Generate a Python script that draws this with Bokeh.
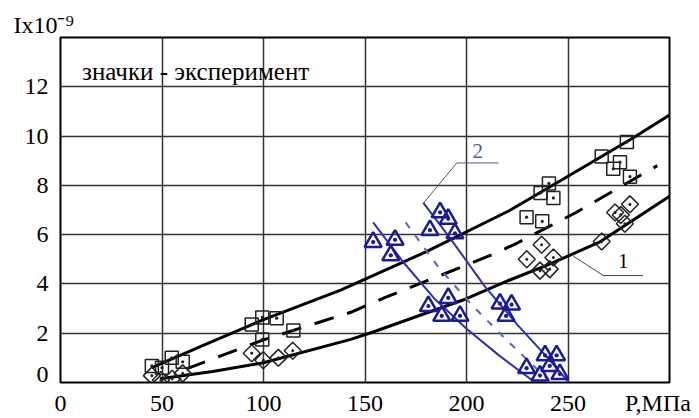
import math
from bokeh.plotting import figure
from bokeh.models import Range1d, FixedTicker, Label, Title
from bokeh.embed import file_html
from bokeh.resources import INLINE

# ---- data ----
x_grid = [50, 100, 150, 200, 250]
x_ticks = [0, 50, 100, 150, 200, 250]
x_unit_pos = 294.3
x_unit_label = "P,МПа"
y_grid = [2, 4, 6, 8, 10, 12]
y_zero_pos = 0.32
y_title = "Ix10⁻⁹"

upper_x = [45, 70, 100, 138, 180, 221, 250, 282, 300]
upper_y = [0.6, 1.5, 2.55, 3.75, 5.3, 6.97, 8.37, 9.92, 10.85]

mid_x = [62, 100, 143, 160, 213, 225, 254, 274, 294]
mid_y = [0.55, 1.73, 2.85, 3.45, 5.2, 5.66, 6.9, 7.85, 8.8]

lower_x = [49, 75, 100, 143, 154, 200, 221, 241, 266, 300]
lower_y = [0.15, 0.45, 0.8, 1.75, 2.05, 3.4, 4.15, 4.8, 5.72, 7.56]

blue_left_x = [154, 169, 184, 200, 216, 233]
blue_left_y = [6.5, 4.87, 3.42, 2.18, 1.1, 0.05]

blue_right_x = [178.7, 192, 209, 225, 240, 250]
blue_right_y = [7.3, 5.85, 3.9, 2.35, 1.0, 0.05]

blue_mid_x = [170, 186, 202, 220, 241]
blue_mid_y = [6.5, 4.7, 3.2, 1.7, 0.05]

sq_x = [45, 50, 54.8, 60.2, 94.2, 99.4, 106.5, 114.7, 99.4,
        240.6, 236.5, 242.8, 229.6, 237.3, 279, 266.6, 275.6, 272.3, 280.5]
sq_y = [0.67, 0.6, 1.0, 0.84, 2.35, 2.64, 2.61, 2.11, 1.75,
        8.08, 7.69, 7.49, 6.71, 6.54, 9.76, 9.17, 8.94, 8.67, 8.35]

dm_x = [45, 49.5, 55, 60.2, 94.2, 99.9, 107.3, 114.4,
        237, 229.7, 242.8, 236.2, 241, 266.6, 273.2, 280.5, 278, 276]
dm_y = [0.28, 0.1, 0.15, 0.37, 1.19, 0.9, 1.0, 1.29,
        5.59, 5.0, 5.07, 4.54, 4.6, 5.72, 6.9, 7.23, 6.44, 6.8]

tr_x = [154, 164.8, 162.7, 187, 191, 182, 194.3, 181.2, 191, 187.8, 196.8,
        216.5, 222.2, 219.5, 238.7, 244.4, 229.6, 241, 236.2, 246]
tr_y = [5.7, 5.79, 5.16, 6.9, 6.64, 6.18, 6.05, 3.1, 3.43, 2.7, 2.7,
        3.2, 3.16, 2.7, 1.1, 1.1, 0.58, 0.67, 0.28, 0.34]

lead2_x = [179, 195.2, 215.7]
lead2_y = [7.3, 8.91, 8.91]
lead1_x = [252.6, 267.4, 287]
lead1_y = [5.13, 4.34, 4.34]

FONT = "'Liberation Serif', 'Times New Roman', serif"

p = figure(width=699, height=418, x_range=Range1d(0, 300), y_range=Range1d(0, 14),
           output_backend="svg", toolbar_location=None,
           min_border_left=60, min_border_right=30, min_border_top=37, min_border_bottom=28)

p.background_fill_color = "white"
p.border_fill_color = "white"
p.outline_line_color = "black"
p.outline_line_width = 2

p.xaxis.ticker = FixedTicker(ticks=x_ticks + [x_unit_pos])
p.xaxis.major_label_overrides = {x_unit_pos: x_unit_label}
p.yaxis.ticker = FixedTicker(ticks=[y_zero_pos] + y_grid)
p.yaxis.major_label_overrides = {y_zero_pos: "0"}
for ax in (p.xaxis, p.yaxis):
    ax.axis_line_color = None
    ax.major_tick_line_color = None
    ax.minor_tick_line_color = None
    ax.major_label_text_font = FONT
    ax.major_label_text_font_size = "24px"
    ax.major_label_text_color = "black"
p.xaxis.major_label_standoff = 1
p.yaxis.major_label_standoff = 6

p.xgrid.ticker = FixedTicker(ticks=x_grid)
p.ygrid.ticker = FixedTicker(ticks=y_grid)
p.xgrid.grid_line_color = "#333333"
p.ygrid.grid_line_color = "#333333"
p.xgrid.grid_line_width = 1.5
p.ygrid.grid_line_width = 1.5

# black curves
p.line(upper_x, upper_y, line_color="black", line_width=3)
p.line(mid_x, mid_y, line_color="black", line_width=3, line_dash="20 14")
p.line(lower_x, lower_y, line_color="black", line_width=3)

# blue curves
p.line(blue_left_x, blue_left_y, line_color="#3030b0", line_width=2)
p.line(blue_right_x, blue_right_y, line_color="#3030b0", line_width=2)
p.line(blue_mid_x, blue_mid_y, line_color="#6060c8", line_width=2, line_dash="7 9")

# leaders
p.line(lead2_x, lead2_y, line_color="#555588", line_width=1)
p.line(lead1_x, lead1_y, line_color="#444444", line_width=1)

# markers
p.scatter(sq_x, sq_y, marker="square_dot", size=13, fill_color=None,
          line_color="#222222", line_width=1.5)
p.scatter(dm_x, dm_y, marker="square_dot", size=12, angle=math.pi / 4, fill_color=None,
          line_color="#222222", line_width=1.5)
p.scatter(tr_x, tr_y, marker="triangle_dot", size=17, fill_color=None,
          line_color="#1a1a9a", line_width=2.5)

# texts
p.add_layout(Label(x=10.6, y=12.61, text="значки - эксперимент", text_font=FONT,
                   text_font_size="25px", text_color="black", text_baseline="alphabetic"))
p.add_layout(Label(x=205.5, y=9.4, text="2", text_font=FONT, text_font_size="21px",
                   text_color="#5a5a9a", text_align="center", text_baseline="middle"))
p.add_layout(Label(x=277.2, y=4.93, text="1", text_font=FONT, text_font_size="21px",
                   text_color="black", text_align="center", text_baseline="middle"))

p.add_layout(Title(text=y_title, align="left", offset=-47, standoff=0,
                   text_font=FONT, text_font_size="24px", text_font_style="normal",
                   text_color="black"), "above")

open("out.html", "w").write(file_html(p, INLINE))
